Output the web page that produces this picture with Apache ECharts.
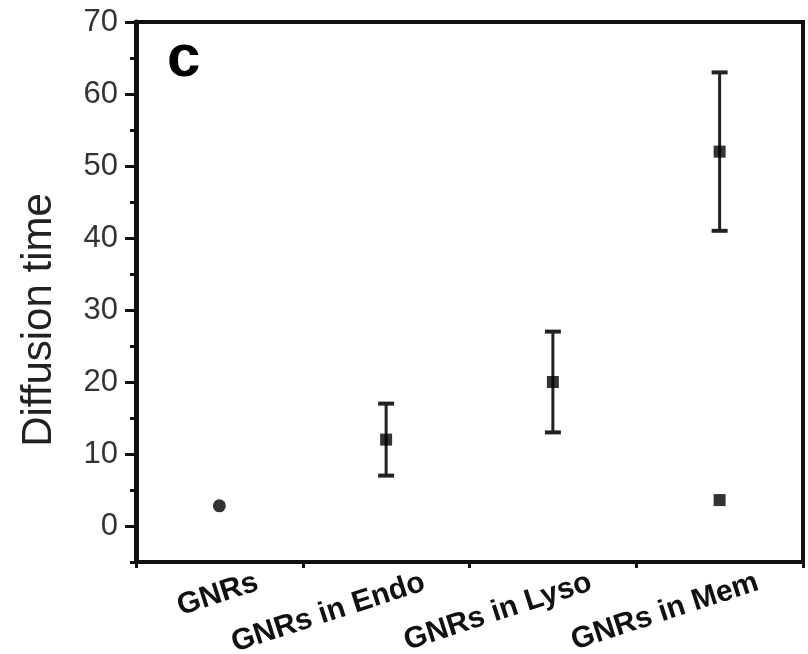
<!DOCTYPE html>
<html><head><meta charset="utf-8">
<script src="https://cdn.jsdelivr.net/npm/echarts@6/dist/echarts.min.js"></script>
<style>html,body{margin:0;padding:0;background:#fff}#c{width:808px;height:654px}</style>
</head><body><div id="c"></div>
<script>
const categories = ['GNRs', 'GNRs in Endo', 'GNRs in Lyso', 'GNRs in Mem'];
const meanValues = [2.8, 12, 20, 52];
const errLow = [null, 7, 13, 41];
const errHigh = [null, 17, 27, 63];
const extraCategories = ['GNRs in Mem'];
const extraValues = [3.6];
const yTickLabels = [0, 10, 20, 30, 40, 50, 60, 70];
const yMin = -5, yMax = 70, yMinorInterval = 5;
const yTitle = 'Diffusion time';
const panelLabel = 'c';

const FONT = '"Liberation Sans", Arial, sans-serif';
const INK = '#111';

const chart = echarts.init(document.getElementById('c'), null, {renderer: 'canvas'});

const errData = [];
categories.forEach((c, i) => {
  if (errLow[i] != null && errHigh[i] != null) errData.push([i, errLow[i], errHigh[i]]);
});

chart.setOption({
  animation: false,
  backgroundColor: '#fff',
  title: {
    text: panelLabel, left: 167, top: 29, padding: 0,
    textStyle: {fontSize: 60, fontWeight: 'bold', color: '#000', fontFamily: FONT}
  },
  grid: {
    left: 136, right: 5, top: 22, bottom: 92,
    show: true, borderColor: INK, borderWidth: 4, backgroundColor: 'transparent',
    containLabel: false, outerBoundsMode: 'none'
  },
  xAxis: {
    type: 'category', data: categories, boundaryGap: true,
    axisLine: {show: true, onZero: false, lineStyle: {color: INK, width: 4}},
    axisTick: {show: true, inside: false, length: 6, lineStyle: {color: INK, width: 3}},
    axisLabel: {
      rotate: 18, margin: 32, fontSize: 30, fontWeight: 'bold', color: '#111',
      fontFamily: FONT, padding: [0, -40, 0, 0], interval: 0
    },
    splitLine: {show: false}
  },
  yAxis: [{
    type: 'value', min: yMin, max: yMax, splitNumber: 8, position: 'left',
    name: yTitle, nameLocation: 'middle', nameGap: 76, nameRotate: 90,
    nameTextStyle: {fontSize: 42, color: '#222', fontFamily: FONT, padding: [0, 56, 0, 0]},
    axisLine: {show: true, lineStyle: {color: INK, width: 5}},
    axisTick: {show: true, inside: false, length: 11, customValues: yTickLabels, lineStyle: {color: INK, width: 3}},
    axisLabel: {
      customValues: yTickLabels, fontSize: 31, color: '#333', fontFamily: FONT, margin: 18,
      formatter: v => (v < 0 ? '' : String(v))
    },
    splitLine: {show: false}
  }, {
    type: 'value', min: yMin, max: yMax, interval: yMinorInterval, position: 'left',
    axisLine: {show: false},
    axisTick: {show: true, inside: false, length: 6, lineStyle: {color: INK, width: 3}},
    axisLabel: {show: false},
    splitLine: {show: false}
  }],
  series: [{
    type: 'custom', yAxisIndex: 0, data: errData, encode: {x: 0, y: [1, 2]}, z: 2,
    renderItem: function (params, api) {
      const x = api.value(0), lo = api.value(1), hi = api.value(2);
      const a = api.coord([x, lo]), b = api.coord([x, hi]);
      const hw = 8;
      const st = {stroke: '#222', lineWidth: 3};
      return {type: 'group', children: [
        {type: 'line', shape: {x1: a[0], y1: a[1], x2: b[0], y2: b[1]}, style: st},
        {type: 'line', shape: {x1: a[0] - hw, y1: a[1], x2: a[0] + hw, y2: a[1]}, style: {stroke: '#222', lineWidth: 4}},
        {type: 'line', shape: {x1: b[0] - hw, y1: b[1], x2: b[0] + hw, y2: b[1]}, style: {stroke: '#222', lineWidth: 4}}
      ]};
    }
  }, {
    type: 'scatter', yAxisIndex: 0, z: 3,
    data: meanValues.map((v, i) => i === 0
      ? {value: [categories[i], v], symbol: 'circle', symbolSize: 13}
      : {value: [categories[i], v]}),
    symbol: 'rect', symbolSize: 12,
    itemStyle: {color: '#000'}
  }, {
    type: 'scatter', yAxisIndex: 0, z: 3,
    data: extraCategories.map((c, i) => [c, extraValues[i]]),
    symbol: 'rect', symbolSize: 12,
    itemStyle: {color: '#000'}
  }]
});
</script>
</body></html>
